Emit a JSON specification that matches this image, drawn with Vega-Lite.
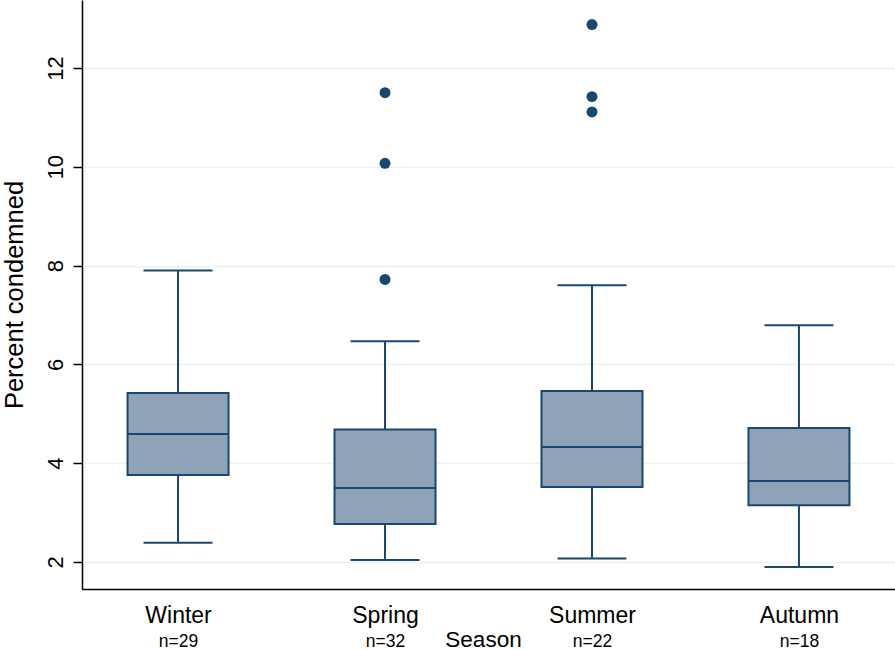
{
  "$schema": "https://vega.github.io/schema/vega-lite/v6.json",
  "width": 813,
  "height": 589,
  "autosize": {"type": "none"},
  "padding": {"left": 82, "top": 0, "right": 0, "bottom": 61},
  "background": "white",
  "config": {
    "view": {"stroke": null},
    "font": "Liberation Sans",
    "axis": {"labelColor": "black", "titleColor": "black", "titleFontWeight": "normal", "labelFont": "Liberation Sans", "titleFont": "Liberation Sans"}
  },
  "datasets": {
    "boxes": [
      {"season": "Winter", "n": 29, "lower": 2.39, "q1": 3.76, "median": 4.59, "q3": 5.42, "upper": 7.9},
      {"season": "Spring", "n": 32, "lower": 2.04, "q1": 2.77, "median": 3.5, "q3": 4.68, "upper": 6.47},
      {"season": "Summer", "n": 22, "lower": 2.07, "q1": 3.52, "median": 4.33, "q3": 5.46, "upper": 7.6},
      {"season": "Autumn", "n": 18, "lower": 1.9, "q1": 3.15, "median": 3.64, "q3": 4.71, "upper": 6.79}
    ],
    "outliers": [
      {"season": "Spring", "value": 7.72},
      {"season": "Spring", "value": 10.07},
      {"season": "Spring", "value": 11.5},
      {"season": "Summer", "value": 11.11},
      {"season": "Summer", "value": 11.42},
      {"season": "Summer", "value": 12.88}
    ]
  },
  "resolve": {"axis": {"x": "independent"}},
  "layer": [
    {
      "data": {"name": "boxes"},
      "mark": {"type": "rule", "color": "#1a476f", "strokeWidth": 2},
      "encoding": {
        "x": {"field": "season", "type": "nominal",
          "scale": {"type": "point", "domain": ["Winter", "Spring", "Summer", "Autumn"], "padding": 0.464},
          "axis": {"orient": "bottom", "title": "Season", "titleFontSize": 22.5, "titleBaseline": "alphabetic", "titleY": 57, "titleX": 401,
            "labelFontSize": 23, "labelAngle": 0, "labelBaseline": "alphabetic", "labelPadding": 33, "ticks": false, "tickSize": 0,
            "domain": true, "domainColor": "black", "domainWidth": 1.5, "grid": false}},
        "y": {"field": "lower", "type": "quantitative",
          "scale": {"domain": [1.453, 13.376], "nice": false, "zero": false},
          "axis": {"title": "Percent condemned", "titleFontSize": 25.5, "titleAngle": -90, "titleBaseline": "alphabetic", "titleAlign": "center", "titleX": -60,
            "values": [2, 4, 6, 8, 10, 12], "labelFontSize": 22, "labelAngle": -90, "labelAlign": "center", "labelBaseline": "alphabetic", "labelPadding": 11,
            "tickColor": "black", "tickWidth": 1.5, "tickSize": 9, "domainColor": "black", "domainWidth": 1.5,
            "grid": true, "gridColor": "#eaf2f3", "gridWidth": 1.5}},
        "y2": {"field": "q1"}
      }
    },
    {
      "data": {"name": "boxes"},
      "mark": {"type": "rule", "color": "#1a476f", "strokeWidth": 2},
      "encoding": {
        "x": {"field": "season", "type": "nominal",
          "axis": {"orient": "bottom", "title": null, "labelFontSize": 17.5, "labelAngle": 0, "labelBaseline": "alphabetic", "labelPadding": 57,
            "ticks": false, "tickSize": 0, "domain": false, "grid": false,
            "labelExpr": "{'Winter': 'n=29', 'Spring': 'n=32', 'Summer': 'n=22', 'Autumn': 'n=18'}[datum.label]"}},
        "y": {"field": "q3", "type": "quantitative"},
        "y2": {"field": "upper"}
      }
    },
    {
      "data": {"name": "boxes"},
      "mark": {"type": "tick", "color": "#1a476f", "size": 69, "thickness": 2, "opacity": 1},
      "encoding": {
        "x": {"field": "season", "type": "nominal", "axis": null},
        "y": {"field": "lower", "type": "quantitative"}
      }
    },
    {
      "data": {"name": "boxes"},
      "mark": {"type": "tick", "color": "#1a476f", "size": 69, "thickness": 2, "opacity": 1},
      "encoding": {
        "x": {"field": "season", "type": "nominal", "axis": null},
        "y": {"field": "upper", "type": "quantitative"}
      }
    },
    {
      "data": {"name": "boxes"},
      "mark": {"type": "bar", "size": 101, "fill": "#8ea3b8", "stroke": "#1a476f", "strokeWidth": 2, "opacity": 1},
      "encoding": {
        "x": {"field": "season", "type": "nominal", "axis": null},
        "y": {"field": "q1", "type": "quantitative"},
        "y2": {"field": "q3"}
      }
    },
    {
      "data": {"name": "boxes"},
      "mark": {"type": "tick", "color": "#1a476f", "size": 101, "thickness": 2, "opacity": 1},
      "encoding": {
        "x": {"field": "season", "type": "nominal", "axis": null},
        "y": {"field": "median", "type": "quantitative"}
      }
    },
    {
      "data": {"name": "outliers"},
      "mark": {"type": "circle", "color": "#1a476f", "size": 120, "opacity": 1},
      "encoding": {
        "x": {"field": "season", "type": "nominal", "axis": null},
        "y": {"field": "value", "type": "quantitative"}
      }
    }
  ]
}
